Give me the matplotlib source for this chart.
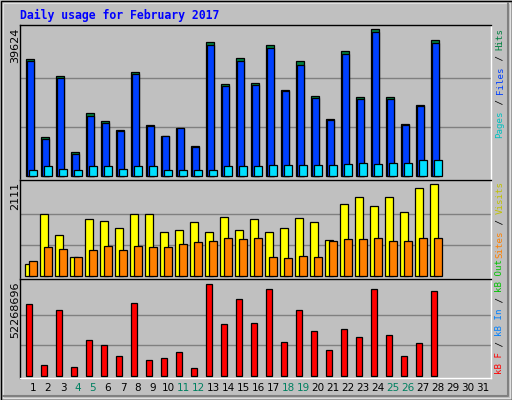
import matplotlib
matplotlib.use("Agg")
import matplotlib.pyplot as plt
from matplotlib.patches import Rectangle

days = list(range(1, 32))
hits = [31600,10500,27000,6500,17000,14850,12400,28100,13800,10800,13000,8100,36200,24800,
        31900,25100,35400,23200,31000,21600,15400,33750,21300,39624,21300,14000,19200,36700]
files = [30900,10000,26500,6000,16300,14300,12200,27400,13500,10700,12900,7800,35400,24300,
         30900,24600,34400,22800,30000,21100,15200,32900,20800,38800,20800,13700,18900,35900]
pages = [1700,2800,2000,1600,2800,2800,2000,2600,2600,1600,1600,1600,1700,2800,
         2800,2800,3000,3000,2900,3000,2900,3200,3600,3300,3600,3600,4300,4300]
visits = [272,1407,931,431,1294,1249,1090,1407,1407,999,1044,1226,999,1339,
          1044,1294,999,1090,1317,1226,817,1634,1793,1589,1793,1453,1998,2088]
sites = [340,658,613,431,590,681,590,681,658,658,726,772,795,863,
         840,863,431,409,454,431,795,840,840,863,795,795,863,863]
kbytes = [41.0e6,6.5e6,37.4e6,5.3e6,20.2e6,17.4e6,11.6e6,41.4e6,9.3e6,10.5e6,13.9e6,4.8e6,
          52268696,29.4e6,43.7e6,29.9e6,49.4e6,19.6e6,37.4e6,25.4e6,14.5e6,26.5e6,21.9e6,
          49.4e6,23.1e6,11.1e6,18.5e6,48.3e6]
weekend = [4, 5, 11, 12, 18, 19, 25, 26]
max_labels = ["39624", "2111", "52268696"]

W, H = 512, 400
fig = plt.figure(figsize=(W/100, H/100), dpi=100)
fig.patch.set_facecolor("#C0C0C0")
bg = fig.add_axes([0, 0, 1, 1]); bg.set_xlim(0, W); bg.set_ylim(H, 0); bg.axis("off")
bg.add_patch(Rectangle((0.5, 0.5), W-1, H-1, fill=False, ec="black", lw=1))
bg.add_patch(Rectangle((2.5, 2.5), W-5, H-5, fill=False, ec="#E0E0E0", lw=0.8))
bg.plot([3, W-4, W-4], [H-4, H-4, 3], color="#808080", lw=1.5)
mono = "DejaVu Sans Mono"
bg.text(20, 15, "Daily usage for February 2017", color="#0000FF", fontsize=8.3,
        fontweight="bold", family=mono, va="center", ha="left")

x0, x1 = 20, 491
def dx(px):
    return 1 + (px - 33) / 15.0

def panel(top, bot, base, maxy, maxv):
    ax = fig.add_axes([x0/W, 1-bot/H, (x1-x0)/W, (bot-top)/H])
    ax.set_facecolor("#C0C0C0")
    per = maxv / (base - maxy)
    ax.set_ylim(-(bot - base)*per, maxv + (maxy - top)*per)
    ax.set_xlim(dx(x0), dx(x1))
    for f in (1/3, 2/3):
        ax.axhline(maxv*f, color="#808080", lw=1, zorder=0)
    ax.set_xticks([]); ax.set_yticks([])
    for s in ("top", "left"):
        ax.spines[s].set_color("black")
    for s in ("bottom", "right"):
        ax.spines[s].set_color("white")
    for s in ax.spines.values():
        s.set_linewidth(1)
    return ax

n = len(hits)
d = days[:n]
ekw = dict(edgecolor="black", linewidth=0.9)
ax1 = panel(25, 180, 176, 29, 39624)
ax1.bar([v-0.23 for v in d], hits, width=0.53, color="#008040", **ekw, zorder=2)
ax1.bar([v-0.16 for v in d], files, width=0.47, color="#0040FF", **ekw, zorder=3)
ax1.bar([v+0.0 for v in d], pages, width=0.53, color="#00E0FF", **ekw, zorder=4)

ax2 = panel(180, 279, 276, 183, 2111)
ax2.bar([v-0.27 for v in d], visits, width=0.53, color="#FFFF00", **ekw, zorder=2)
ax2.bar([v+0.0 for v in d], sites, width=0.53, color="#FF8000", **ekw, zorder=3)

ax3 = panel(279, 378, 376, 284, 52268696)
ax3.bar([v-0.27 for v in d], kbytes, width=0.45, color="#FF0000", **ekw, zorder=2)

for lab, y in zip(max_labels, [28, 182, 282]):
    bg.text(15, y, lab, rotation=90, fontsize=8, family="DejaVu Sans", va="top", ha="center")

for day in days:
    bg.text(33 + 15*(day-1), 388, str(day), fontsize=7.5, ha="center", va="center",
            color="#008060" if day in weekend else "black")

cpx = 5.5
def vlabel(pieces, top):
    y = top
    for txt, col in reversed(pieces):
        bg.text(500, y, txt, rotation=90, color=col, fontsize=6.6, family=mono,
                ha="center", va="top")
        y += len(txt) * cpx

vlabel([("Pages", "#00C0C0"), (" / ", "black"), ("Files", "#0040FF"),
        (" / ", "black"), ("Hits", "#008040")], 28)
vlabel([("Sites", "#FF8000"), (" / ", "black"), ("Visits", "#C0C000")], 181)
vlabel([("kB F", "#FF0000"), (" / ", "black"), ("kB In", "#0080FF"),
        (" / ", "black"), ("kB Out", "#00C000")], 259)

fig.savefig("out.png", dpi=100, facecolor=fig.get_facecolor())
